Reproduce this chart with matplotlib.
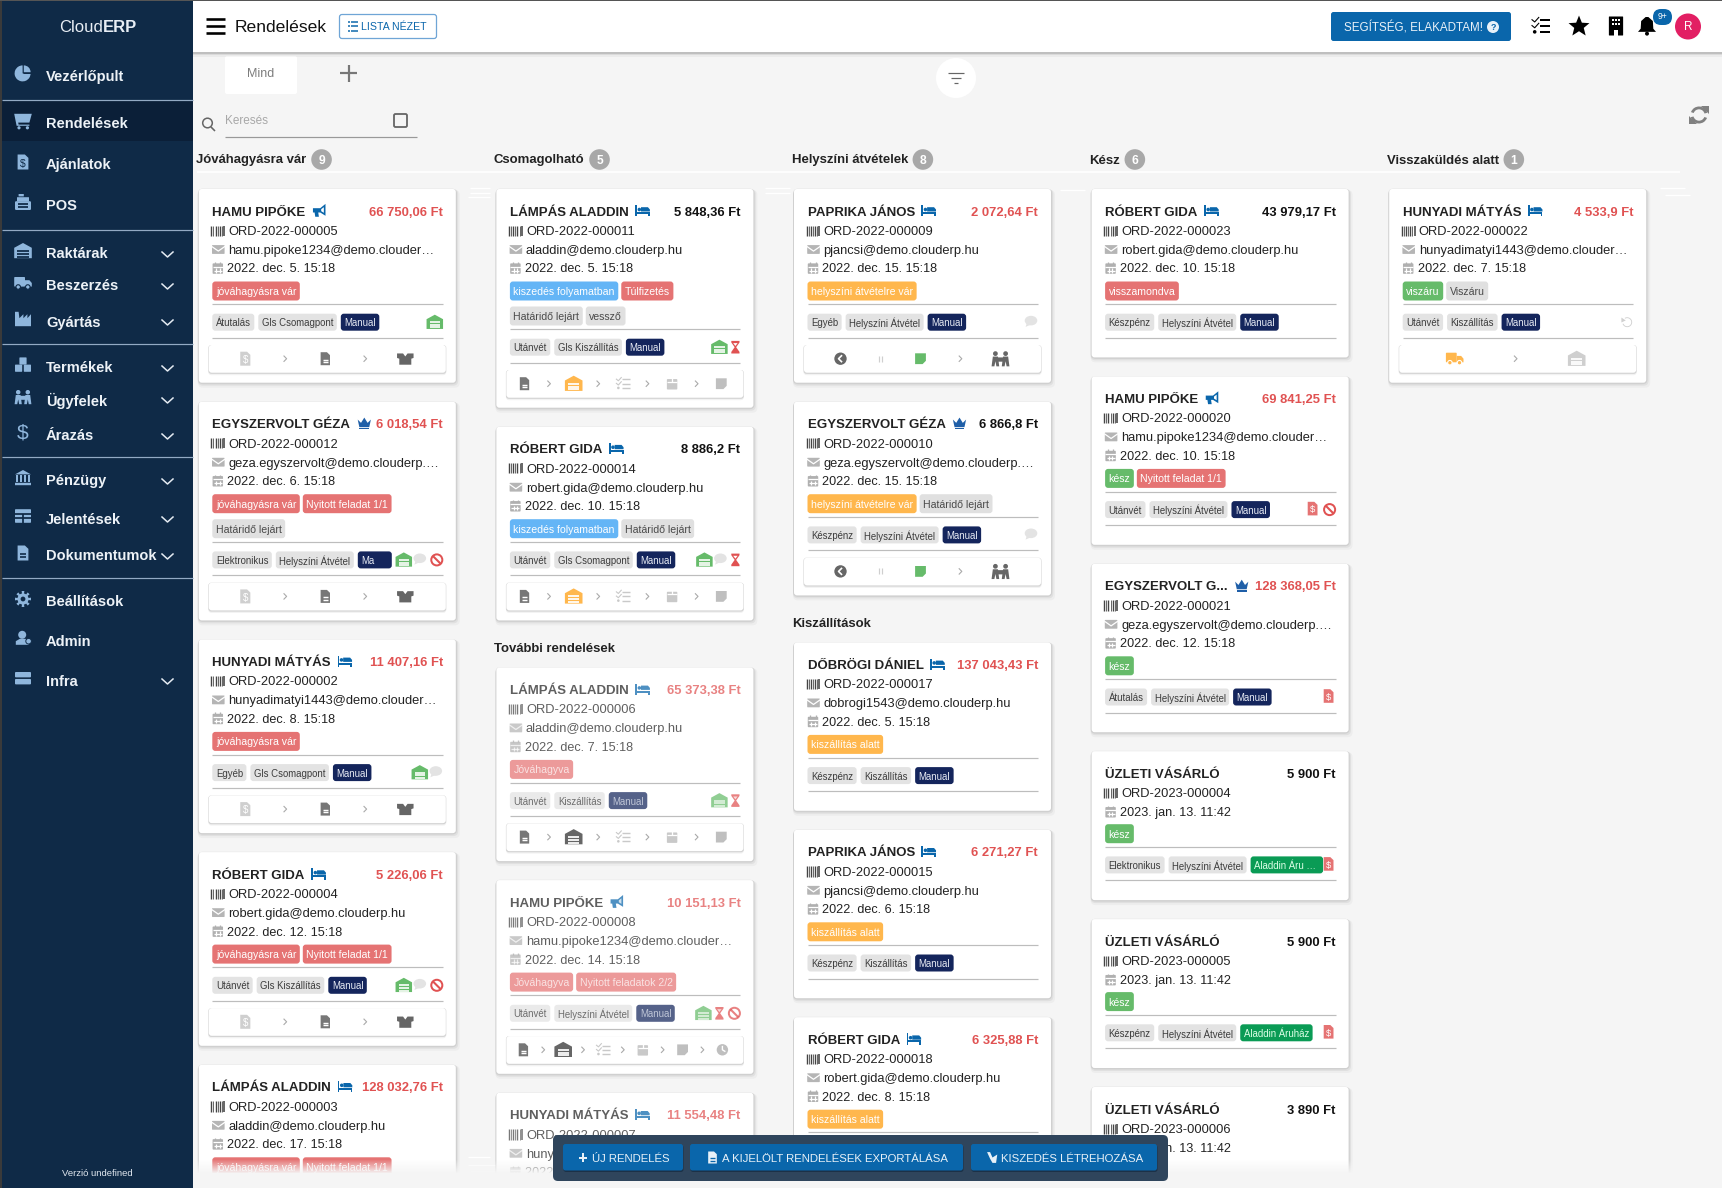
#!/usr/bin/env python3
# -*- coding: utf-8 -*-
import matplotlib
matplotlib.use('Agg')
import matplotlib.pyplot as plt
from matplotlib.patches import FancyBboxPatch, Polygon, Circle, Rectangle, Ellipse, Wedge

plt.rcParams['font.family'] = ['Liberation Sans', 'DejaVu Sans']

# Sidebar content
menu_labels = ['Vezérlőpult', 'Rendelések', 'Ajánlatok', 'POS', 'Raktárak', 'Beszerzés', 'Gyártás',
               'Termékek', 'Ügyfelek', 'Árazás', 'Pénzügy', 'Jelentések', 'Dokumentumok',
               'Beállítások', 'Admin', 'Infra']
menu_icons = ['pie', 'cart', 'file_dollar', 'pos', 'warehouse', 'truck', 'factory', 'boxes', 'people',
              'dollar', 'bank', 'table', 'file', 'gear', 'user', 'server']
menu_arrows = [0, 0, 0, 0, 1, 1, 1, 1, 1, 1, 1, 1, 1, 0, 0, 1]

# Kanban columns
column_titles = ['Jóváhagyásra vár', 'Csomagolható', 'Helyszíni átvételek', 'Kész', 'Visszaküldés alatt']
column_counts = ['9', '5', '8', '6', '1']

# Orders, one entry per card
card_column = [0, 0, 0, 0, 0, 1, 1, 1, 1, 1, 2, 2, 2, 2, 2, 3, 3, 3, 3, 3, 3, 4]
card_faded = [0, 0, 0, 0, 0, 0, 0, 1, 1, 1, 0, 0, 0, 0, 0, 0, 0, 0, 0, 0, 0, 0]
card_names = ['HAMU PIPŐKE', 'EGYSZERVOLT GÉZA', 'HUNYADI MÁTYÁS', 'RÓBERT GIDA', 'LÁMPÁS ALADDIN',
              'LÁMPÁS ALADDIN', 'RÓBERT GIDA', 'LÁMPÁS ALADDIN', 'HAMU PIPŐKE', 'HUNYADI MÁTYÁS',
              'PAPRIKA JÁNOS', 'EGYSZERVOLT GÉZA', 'DŐBRÖGI DÁNIEL', 'PAPRIKA JÁNOS', 'RÓBERT GIDA',
              'RÓBERT GIDA', 'HAMU PIPŐKE', 'EGYSZERVOLT G...', 'ÜZLETI VÁSÁRLÓ', 'ÜZLETI VÁSÁRLÓ',
              'ÜZLETI VÁSÁRLÓ', 'HUNYADI MÁTYÁS']
card_kinds = ['mega', 'crown', 'bed', 'bed', 'bed', 'bed', 'bed', 'bed', 'mega', 'bed', 'bed', 'crown',
              'bed', 'bed', 'bed', 'bed', 'mega', 'crown', None, None, None, 'bed']
card_amounts = ['66 750,06 Ft', '6 018,54 Ft', '11 407,16 Ft', '5 226,06 Ft', '128 032,76 Ft',
                '5 848,36 Ft', '8 886,2 Ft', '65 373,38 Ft', '10 151,13 Ft', '11 554,48 Ft',
                '2 072,64 Ft', '6 866,8 Ft', '137 043,43 Ft', '6 271,27 Ft', '6 325,88 Ft',
                '43 979,17 Ft', '69 841,25 Ft', '128 368,05 Ft', '5 900 Ft', '5 900 Ft', '3 890 Ft',
                '4 533,9 Ft']
card_unpaid = [1, 1, 1, 1, 1, 0, 0, 1, 1, 1, 1, 0, 1, 1, 1, 0, 1, 1, 0, 0, 0, 1]
card_ids = ['ORD-2022-000005', 'ORD-2022-000012', 'ORD-2022-000002', 'ORD-2022-000004', 'ORD-2022-000003',
            'ORD-2022-000011', 'ORD-2022-000014', 'ORD-2022-000006', 'ORD-2022-000008', 'ORD-2022-000007',
            'ORD-2022-000009', 'ORD-2022-000010', 'ORD-2022-000017', 'ORD-2022-000015', 'ORD-2022-000018',
            'ORD-2022-000023', 'ORD-2022-000020', 'ORD-2022-000021', 'ORD-2023-000004', 'ORD-2023-000005',
            'ORD-2023-000006', 'ORD-2022-000022']
card_emails = ['hamu.pipoke1234@demo.clouder…', 'geza.egyszervolt@demo.clouderp.…',
               'hunyadimatyi1443@demo.clouder…', 'robert.gida@demo.clouderp.hu', 'aladdin@demo.clouderp.hu',
               'aladdin@demo.clouderp.hu', 'robert.gida@demo.clouderp.hu', 'aladdin@demo.clouderp.hu',
               'hamu.pipoke1234@demo.clouder…', 'hunyadimatyi1443@demo.clouder…',
               'pjancsi@demo.clouderp.hu', 'geza.egyszervolt@demo.clouderp.…', 'dobrogi1543@demo.clouderp.hu',
               'pjancsi@demo.clouderp.hu', 'robert.gida@demo.clouderp.hu', 'robert.gida@demo.clouderp.hu',
               'hamu.pipoke1234@demo.clouder…', 'geza.egyszervolt@demo.clouderp.…', None, None, None,
               'hunyadimatyi1443@demo.clouder…']
card_dates = ['2022. dec. 5. 15:18', '2022. dec. 6. 15:18', '2022. dec. 8. 15:18', '2022. dec. 12. 15:18',
              '2022. dec. 17. 15:18', '2022. dec. 5. 15:18', '2022. dec. 10. 15:18', '2022. dec. 7. 15:18',
              '2022. dec. 14. 15:18', '2022. dec. 9. 15:18', '2022. dec. 15. 15:18', '2022. dec. 15. 15:18',
              '2022. dec. 5. 15:18', '2022. dec. 6. 15:18', '2022. dec. 8. 15:18', '2022. dec. 10. 15:18',
              '2022. dec. 10. 15:18', '2022. dec. 12. 15:18', '2023. jan. 13. 11:42', '2023. jan. 13. 11:42',
              '2023. jan. 13. 11:42', '2022. dec. 7. 15:18']
JOV = 'jóváhagyásra vár'
OPEN = 'Nyitott feladat 1/1'
LATE = 'Határidő lejárt'
PICK = 'kiszedés folyamatban'
SITE = 'helyszíni átvételre vár'
SHIP = 'kiszállítás alatt'
card_tags = [[[JOV]], [[JOV, OPEN], [LATE]], [[JOV]], [[JOV, OPEN]], [[JOV, OPEN]],
             [[PICK, 'Túlfizetés'], [LATE, 'vessző']], [[PICK, LATE]], [['Jóváhagyva']],
             [['Jóváhagyva', 'Nyitott feladatok 2/2']], [['Jóváhagyva']],
             [[SITE]], [[SITE, LATE]], [[SHIP]], [[SHIP]], [[SHIP]],
             [['visszamondva']], [['kész', OPEN]], [['kész']], [['kész']], [['kész']], [['kész']],
             [['viszáru', 'Viszáru']]]
card_chips = [['Átutalás', 'Gls Csomagpont', 'Manual'], ['Elektronikus', 'Helyszíni Átvétel', 'Ma'],
              ['Egyéb', 'Gls Csomagpont', 'Manual'], ['Utánvét', 'Gls Kiszállítás', 'Manual'],
              ['Utánvét', 'Gls Kiszállítás', 'Manual'], ['Utánvét', 'Gls Kiszállítás', 'Manual'],
              ['Utánvét', 'Gls Csomagpont', 'Manual'], ['Utánvét', 'Kiszállítás', 'Manual'],
              ['Utánvét', 'Helyszíni Átvétel', 'Manual'], ['Utánvét', 'Kiszállítás', 'Manual'],
              ['Egyéb', 'Helyszíni Átvétel', 'Manual'], ['Készpénz', 'Helyszíni Átvétel', 'Manual'],
              ['Készpénz', 'Kiszállítás', 'Manual'], ['Készpénz', 'Kiszállítás', 'Manual'],
              ['Készpénz', 'Kiszállítás', 'Manual'], ['Készpénz', 'Helyszíni Átvétel', 'Manual'],
              ['Utánvét', 'Helyszíni Átvétel', 'Manual'], ['Átutalás', 'Helyszíni Átvétel', 'Manual'],
              ['Elektronikus', 'Helyszíni Átvétel', 'Aladdin Áru …'],
              ['Készpénz', 'Helyszíni Átvétel', 'Aladdin Áruház'],
              ['Készpénz', 'Helyszíni Átvétel', 'Aladdin Áruház'], ['Utánvét', 'Kiszállítás', 'Manual']]
card_status = [['wh'], ['wh', 'comment', 'ban'], ['wh', 'comment'], ['wh', 'comment', 'ban'], ['wh', 'comment'],
               ['wh', 'glass'], ['wh', 'comment', 'glass'], ['wh', 'glass'], ['wh', 'glass', 'ban'], ['wh', 'glass'],
               ['comment'], ['comment'], [], [], [], [], ['invoice', 'ban'], ['invoice'], ['invoice'], ['invoice'],
               ['invoice'], ['undo']]
APPROVE = ['file_dollar', '>', 'file', '>', 'box']
PACK = ['file', '>', 'wh_orange', '>', 'list', '>', 'cal', '>', 'note']
PACK_GREY = ['file', '>', 'wh_dark', '>', 'list', '>', 'cal', '>', 'note']
PACK_LONG = PACK_GREY + ['>', 'clock']
PICKUP = ['back', 'pause', 'note_green', '>', 'people']
RETURN = ['truck_orange', '>', 'wh_light']
card_steps = [APPROVE, APPROVE, APPROVE, APPROVE, APPROVE, PACK, PACK, PACK_GREY, PACK_LONG, PACK_GREY,
              PICKUP, PICKUP, None, None, None, None, None, None, None, None, None, RETURN]
# a second heading opens before these cards
section_before = {7: 'További rendelések', 12: 'Kiszállítások'}

toolbar_labels = ['ÚJ RENDELÉS', 'A KIJELÖLT RENDELÉSEK EXPORTÁLÁSA', 'KISZEDÉS LÉTREHOZÁSA']
toolbar_icons = ['plus', 'file', 'picker']

tag_colors = {JOV: '#e57373', OPEN: '#e57373', LATE: '#e0e0e0', PICK: '#64b5f6', 'Túlfizetés': '#e57373',
              'vessző': '#e0e0e0', 'Jóváhagyva': '#e57373', 'Nyitott feladatok 2/2': '#e57373', SITE: '#ffb74d',
              SHIP: '#ffb74d', 'visszamondva': '#e57373', 'kész': '#66bb6a', 'viszáru': '#66bb6a',
              'Viszáru': '#e0e0e0'}

SIDEBAR = '#0f2a47'
SIDE_ICON = '#8fb6dc'
BLUE = '#0a66ab'
PAGE = '#f5f5f5'

fig = plt.figure(figsize=(17.22, 11.88), dpi=100, facecolor=PAGE)
ax = fig.add_axes([0, 0, 1, 1])
ax.set_xlim(0, 1722)
ax.set_ylim(1188, 0)
ax.axis('off')


def rr(x0, y0, x1, y1, r, fc, ec='none', lw=0, z=2, alpha=None):
    p = FancyBboxPatch((x0, y0), x1 - x0, y1 - y0, boxstyle='round,pad=0,rounding_size={}'.format(r),
                       fc=fc, ec=ec, lw=lw, zorder=z, alpha=alpha)
    ax.add_patch(p)


def txt(x, y, s, px, color='#222222', bold=False, ha='left', z=4, alpha=None):
    return ax.text(x, y, s, fontsize=px * 0.72, color=color, fontweight='bold' if bold else 'normal',
                   ha=ha, va='center_baseline', zorder=z, alpha=alpha)


def text_w(t):
    return t.get_window_extent(fig.canvas.get_renderer()).width


def line(x0, y0, x1, y1, c, lw=1.0, z=3, alpha=None):
    ax.plot([x0, x1], [y0, y1], color=c, lw=lw * 0.72, zorder=z, alpha=alpha, solid_capstyle='butt')


def poly(x, y, s, pts, c, z=5, a=None):
    ax.add_patch(Polygon([(x + px * s, y + py * s) for px, py in pts], closed=True, fc=c, ec='none', zorder=z, alpha=a))


def bars(x, y, s, rows, bg, z=6, a=None):
    # little strokes in background colour, to cut detail into a solid icon
    for x0, y0, x1, y1 in rows:
        line(x + x0 * s, y + y0 * s, x + x1 * s, y + y1 * s, bg, lw=max(1.0, s * 0.22), z=z, alpha=a)


def icon(kind, x, y, s, c, bg='white', a=None):
    if kind == 'file' or kind == 'file_dollar':
        poly(x, y, s, [(-.72, -1), (.25, -1), (.72, -.55), (.72, 1), (-.72, 1)], c, a=a)
        if kind == 'file':
            bars(x, y, s, [(-.35, .15, .35, .15), (-.35, .5, .35, .5)], bg, a=a)
        else:
            ax.text(x, y + s * .2, '$', fontsize=s * 1.0, color=bg, ha='center', va='center', zorder=6, alpha=a)
    elif kind == 'box':
        poly(x, y, s, [(-1.1, -.7), (-.3, -.7), (0, -.3), (.3, -.7), (1.1, -.7), (1.1, -.1), (.8, 0), (.8, .8), (-.8, .8), (-.8, 0), (-1.1, -.1)], c, a=a)
    elif kind == 'warehouse':
        poly(x, y, s, [(-1.1, -.4), (0, -1), (1.1, -.4), (1.1, .9), (-1.1, .9)], c, a=a)
        bars(x, y, s, [(-.7, 0, .7, 0), (-.7, .35, .7, .35), (-.7, .7, .7, .7)], bg, a=a)
    elif kind == 'comment':
        ax.add_patch(Ellipse((x, y - s * .1), 2.1 * s, 1.6 * s, fc=c, ec='none', zorder=5, alpha=a))
        poly(x, y, s, [(-.7, .3), (-.9, .95), (-.1, .6)], c, a=a)
    elif kind == 'ban':
        ax.add_patch(Circle((x, y), .85 * s, fc='none', ec=c, lw=s * .22, zorder=5, alpha=a))
        line(x - .6 * s, y - .6 * s, x + .6 * s, y + .6 * s, c, lw=s * .32, z=5, alpha=a)
    elif kind == 'glass':
        poly(x, y, s, [(-.65, -1), (.65, -1), (.65, -.75), (.12, 0), (.65, .75), (.65, 1), (-.65, 1), (-.65, .75), (-.12, 0), (-.65, -.75)], c, a=a)
        poly(x, y, s, [(-.35, -.65), (.35, -.65), (0, -.2)], bg, z=6, a=a)
    elif kind == 'bed':
        poly(x, y, s, [(-1.1, -.8), (-.85, -.8), (-.85, .25), (1.1, .25), (1.1, .9), (.85, .9), (.85, .55), (-.85, .55), (-.85, .9), (-1.1, .9)], c, a=a)
        poly(x, y, s, [(-.25, -.5), (.8, -.5), (1.1, -.15), (1.1, .15), (-.25, .15)], c, a=a)
        ax.add_patch(Circle((x - .5 * s, y - .15 * s), .27 * s, fc=c, ec='none', zorder=5, alpha=a))
    elif kind == 'mega':
        poly(x, y, s, [(-1, -.35), (.1, -.35), (.9, -1), (.9, .8), (.1, .3), (-.2, .3), (-.1, .95), (-.65, .95), (-.75, .3), (-1, .3)], c, a=a)
        poly(x, y, s, [(.25, -.2), (.65, -.5), (.65, .35), (.25, .1)], bg, z=6, a=a)
    elif kind == 'crown':
        poly(x, y, s, [(-1, -.55), (-.5, -.05), (0, -.85), (.5, -.05), (1, -.55), (.75, .6), (-.75, .6)], c, a=a)
        poly(x, y, s, [(-.75, .72), (.75, .72), (.75, .95), (-.75, .95)], c, a=a)
    elif kind == '>':
        ax.plot([x - .22 * s, x + .22 * s, x - .22 * s], [y - .45 * s, y, y + .45 * s], color=c, lw=.8, zorder=5, alpha=a)
    elif kind == 'list':
        for dy in [-.65, 0, .65]:
            line(x - .1 * s, y + dy * s, x + 1.05 * s, y + dy * s, c, lw=max(1.1, s * .22), z=5, alpha=a)
            if dy < .5:
                ax.plot([x - s, x - .7 * s, x - .25 * s], [y + (dy - .05) * s, y + (dy + .2) * s, y + (dy - .3) * s],
                        color=c, lw=.8, zorder=5, alpha=a)
            else:
                ax.add_patch(Circle((x - .7 * s, y + dy * s), .2 * s, fc=c, ec='none', zorder=5, alpha=a))
    elif kind == 'cal':
        rr(x - .9 * s, y - .8 * s, x + .9 * s, y + s, .15 * s, c, z=5, alpha=a)
        bars(x, y, s, [(-.9, -.25, .9, -.25), (-.3, .05, -.3, .8), (.3, .05, .3, .8), (-.7, .45, .7, .45)], bg, a=a)
        bars(x, y, s, [(-.45, -1.05, -.45, -.7), (.45, -1.05, .45, -.7)], c, a=a)
    elif kind == 'cal_plain':
        rr(x - .9 * s, y - .8 * s, x + .9 * s, y + s, .15 * s, c, z=5, alpha=a)
        bars(x, y, s, [(-.9, -.35, .9, -.35), (0, -1.05, 0, -.35)], bg, a=a)
    elif kind == 'note':
        poly(x, y, s, [(-.9, -.9), (.9, -.9), (.9, .35), (.35, .9), (-.9, .9)], c, a=a)
    elif kind == 'back':
        ax.add_patch(Circle((x, y), .95 * s, fc=c, ec='none', zorder=5, alpha=a))
        ax.plot([x + .15 * s, x - .3 * s, x + .15 * s], [y - .45 * s, y, y + .45 * s], color=bg, lw=1.2, zorder=6)
    elif kind == 'pause':
        line(x - .2 * s, y - .5 * s, x - .2 * s, y + .5 * s, c, lw=1.2, z=5, alpha=a)
        line(x + .2 * s, y - .5 * s, x + .2 * s, y + .5 * s, c, lw=1.2, z=5, alpha=a)
    elif kind == 'people':
        for dx in [-.6, .6]:
            ax.add_patch(Circle((x + dx * s, y - .6 * s), .28 * s, fc=c, ec='none', zorder=5, alpha=a))
            poly(x + dx * s, y, s, [(-.3, -.25), (.3, -.25), (.45, .9), (.12, .9), (0, .3), (-.12, .9), (-.45, .9)], c, a=a)
        rr(x - .45 * s, y - .15 * s, x + .45 * s, y + .35 * s, .05 * s, c, z=5, alpha=a)
    elif kind == 'truck':
        rr(x - 1.1 * s, y - .75 * s, x + .25 * s, y + .45 * s, .1 * s, c, z=5, alpha=a)
        poly(x, y, s, [(.25, -.35), (.8, -.35), (1.1, 0), (1.1, .45), (.25, .45)], c, a=a)
        for dx in [-.6, .6]:
            ax.add_patch(Circle((x + dx * s, y + .5 * s), .28 * s, fc=c, ec=bg, lw=.8, zorder=6, alpha=a))
    elif kind == 'clock':
        ax.add_patch(Circle((x, y), .95 * s, fc=c, ec='none', zorder=5, alpha=a))
        ax.plot([x, x, x + .4 * s], [y - .55 * s, y, y + .25 * s], color=bg, lw=1, zorder=6)
    elif kind == 'undo':
        ax.add_patch(Wedge((x, y), .85 * s, -120, 160, width=.15 * s, fc=c, ec='none', zorder=5, alpha=a))
        poly(x, y, s, [(-1, -.8), (-.25, -.3), (-1, .05)], c, a=a)
    elif kind == 'pie':
        ax.add_patch(Wedge((x - .05 * s, y + .05 * s), s, 0, 270, fc=c, ec='none', zorder=5))
        ax.add_patch(Wedge((x + .1 * s, y - .1 * s), .85 * s, 270, 360, fc=c, ec='none', zorder=5))
        line(x - .05 * s, y, x + s, y, bg, lw=1, z=6)
    elif kind == 'cart':
        poly(x, y, s, [(-1.1, -.9), (1.1, -.9), (.8, .2), (-.6, .2), (-.55, .45), (.8, .45), (.8, .6), (-.8, .6)], c)
        for dx in [-.5, .55]:
            ax.add_patch(Circle((x + dx * s, y + .85 * s), .2 * s, fc=c, ec='none', zorder=5))
    elif kind == 'pos':
        rr(x - s, y - .1 * s, x + s, y + s, .15 * s, c, z=5)
        rr(x - .75 * s, y - .6 * s, x + .75 * s, y - .05 * s, .05 * s, c, z=5)
        rr(x - .55 * s, y - s, x + .1 * s, y - .7 * s, .02 * s, c, z=5)
        bars(x, y, s, [(-.6, .3, .6, .3), (-.6, .6, .6, .6)], bg)
    elif kind == 'factory':
        poly(x, y, s, [(-1, -.9), (-.55, -.9), (-.45, -.1), (.05, -.6), (.05, -.1), (.55, -.6), (.55, -.1), (1, -.6), (1, .9), (-1, .9)], c)
    elif kind == 'boxes':
        for dx, dy in [(-.55, .4), (.55, .4), (0, -.5)]:
            rr(x + (dx - .45) * s, y + (dy - .45) * s, x + (dx + .45) * s, y + (dy + .45) * s, .08 * s, c, z=5)
    elif kind == 'dollar':
        ax.text(x, y, '$', fontsize=s * 1.9, color=c, ha='center', va='center', zorder=5)
    elif kind == 'bank':
        poly(x, y, s, [(-1, -.45), (0, -1), (1, -.45)], c)
        for dx in [-.7, -.25, .25, .7]:
            line(x + dx * s, y - .35 * s, x + dx * s, y + .55 * s, c, lw=s * .25, z=5)
        line(x - s, y + .75 * s, x + s, y + .75 * s, c, lw=s * .3, z=5)
    elif kind == 'table':
        rr(x - s, y - .85 * s, x + s, y + .85 * s, .1 * s, c, z=5)
        bars(x, y, s, [(-1, -.3, 1, -.3), (-1, .28, 1, .28), (0, -.3, 0, .85)], bg)
    elif kind == 'gear':
        for ang in range(0, 360, 45):
            ax.add_patch(Wedge((x, y), s, ang - 10, ang + 10, fc=c, ec='none', zorder=5))
        ax.add_patch(Circle((x, y), .7 * s, fc=c, ec='none', zorder=5))
        ax.add_patch(Circle((x, y), .3 * s, fc=bg, ec='none', zorder=6))
    elif kind == 'user':
        ax.add_patch(Circle((x - .1 * s, y - .4 * s), .5 * s, fc=c, ec='none', zorder=5))
        poly(x, y, s, [(-.9, .85), (-.9, .4), (-.4, .1), (.3, .1), (.7, .4), (.7, .85)], c)
        ax.add_patch(Circle((x + .7 * s, y + .4 * s), .35 * s, fc=c, ec=bg, lw=.7, zorder=6))
    elif kind == 'server':
        rr(x - s, y - .75 * s, x + s, y - .08 * s, .12 * s, c, z=5)
        rr(x - s, y + .12 * s, x + s, y + .8 * s, .12 * s, c, z=5)
    elif kind == 'barcode':
        for i, w in enumerate([1.4, .8, 1.4, .8, 1.4, .8, 1.6]):
            line(x - s + i * s * .33, y - .75 * s, x - s + i * s * .33, y + .8 * s, c, lw=w, z=5, alpha=a)
    elif kind == 'mail':
        rr(x - s, y - .7 * s, x + s, y + .7 * s, .1 * s, c, z=5, alpha=a)
        ax.plot([x - s, x, x + s], [y - .45 * s, y + .25 * s, y - .45 * s], color=bg, lw=.9, zorder=6, alpha=a)
    elif kind == 'star':
        pts = [(0, -1.1), (.3, -.35), (1.1, -.3), (.5, .2), (.7, 1), (0, .55), (-.7, 1), (-.5, .2), (-1.1, -.3), (-.3, -.35)]
        poly(x, y, s, pts, c)
    elif kind == 'building':
        rr(x - .75 * s, y - s, x + .75 * s, y + s, .05 * s, c, z=5)
        for dx in [-.35, 0, .35]:
            for dy in [-.6, -.2]:
                ax.add_patch(Rectangle((x + (dx - .1) * s, y + (dy - .1) * s), .2 * s, .2 * s, fc=bg, zorder=6))
        ax.add_patch(Rectangle((x - .2 * s, y + .45 * s), .4 * s, .55 * s, fc=bg, zorder=6))
    elif kind == 'bell':
        poly(x, y, s, [(-.15, -1), (.15, -1), (.65, -.55), (.7, .3), (1, .65), (-1, .65), (-.7, .3), (-.65, -.55)], c)
        ax.add_patch(Circle((x, y + .85 * s), .22 * s, fc=c, ec='none', zorder=5))
    elif kind == 'picker':
        poly(x, y, s, [(-.8, -.9), (-.3, -.9), (.1, 0), (.9, -.5), (.7, .9), (.1, .9), (-.3, .2)], c)
    elif kind == 'plus':
        line(x - .7 * s, y, x + .7 * s, y, c, lw=2)
        line(x, y - .7 * s, x, y + .7 * s, c, lw=2)


def lift(z_new):
    # icons are drawn at z 5/6; raise the ones of a chrome layer above what it covers
    for art in ax.patches + ax.lines + ax.texts:
        if art.get_zorder() in (5, 6):
            art.set_zorder(z_new + art.get_zorder() - 5)


###########
# SIDEBAR #
###########
ax.add_patch(Rectangle((0, 0), 193, 1188, fc=SIDEBAR, ec='none', zorder=10))
ax.add_patch(Rectangle((0, 100), 193, 41, fc='#0b1f38', ec='none', zorder=10))
ax.add_patch(Rectangle((0, 0), 1.5, 1188, fc='#3a3a3a', ec='none', zorder=12))
ax.add_patch(Rectangle((0, 0), 1722, 1, fc='#555555', ec='none', zorder=30))
for y in [99.5, 229.5, 343.5, 457, 578]:
    line(1.5, y, 193, y, '#93aac4', lw=1.2, z=11)
t1 = ax.text(59, 26, 'Cloud', fontsize=12, color='#e8eef5', va='center_baseline', zorder=11)
ax.text(59 + text_w(t1), 26, 'ERP', fontsize=12, color='#e8eef5', fontweight='bold', va='center_baseline', zorder=11)
menu_y = [75, 123, 164, 204, 253, 285, 321, 367, 399, 435, 480, 518, 555, 601, 640, 680]
for label, kind, arrow, y in zip(menu_labels, menu_icons, menu_arrows, menu_y):
    ax.text(46, y, label, fontsize=10.5, color='#edf2f7', fontweight='bold', va='center_baseline', zorder=11)
    bg = '#0b1f38' if label == 'Rendelések' else SIDEBAR
    # icons sit a little above the label
    icon(kind, 23, y - 2, 7.5 if kind in ('file_dollar', 'file') else 8, SIDE_ICON, bg=bg)
    if arrow:
        ax.plot([162, 167.5, 173], [y - 1, y + 4, y - 1], color='#e4ebf2', lw=1.1, zorder=11)
lift(13)
ax.text(97, 1173, 'Verzió undefined', fontsize=6.8, color='#dfe6ee', ha='center', va='center_baseline', zorder=11)

###########
# TOP BAR #
###########
for off, al in [(5, .04), (3, .07), (1.5, .12)]:
    ax.add_patch(Rectangle((193, 0), 1529, 52 + off, fc='black', alpha=al, ec='none', zorder=7))
ax.add_patch(Rectangle((193, 0), 1529, 52, fc='white', ec='none', zorder=8))
for y in [19, 26, 33]:
    line(206, y, 225, y, 'black', lw=2.6, z=9)
ax.text(235, 26, 'Rendelések', fontsize=12.6, color='#111111', va='center_baseline', zorder=9)
rr(339.5, 14.5, 436.5, 38.5, 2.5, 'white', ec='#6fa5d6', lw=.9, z=9)
for y in [21.5, 26, 30.5]:
    line(347.5, y, 349.5, y, BLUE, lw=1.5, z=10)
    line(351, y, 357.5, y, BLUE, lw=1.5, z=10)
ax.text(361, 26.5, 'LISTA NÉZET', fontsize=7.6, color=BLUE, va='center_baseline', zorder=10)
rr(1331, 12, 1511, 41, 2.5, BLUE, z=9)
ax.text(1344, 26.5, 'SEGÍTSÉG, ELAKADTAM!', fontsize=8.4, color='#e8f1f8', va='center_baseline', zorder=10)
ax.add_patch(Circle((1493, 27), 6, fc='#e8f1f8', ec='none', zorder=10))
ax.text(1493, 27, '?', fontsize=6.5, color=BLUE, fontweight='bold', ha='center', va='center', zorder=11)
for kind, x, s in [('list', 1541, 9), ('star', 1579, 9.5), ('building', 1616, 9.5), ('bell', 1647, 9)]:
    icon(kind, x, 26, s, 'black')
lift(10)
rr(1653, 9, 1672, 25, 8, BLUE, z=11)
ax.text(1662.5, 16.5, '9+', fontsize=6.2, color='white', ha='center', va='center', zorder=12)
ax.add_patch(Circle((1688, 26.5), 13, fc='#e21f63', ec='none', zorder=9))
ax.text(1688, 26.5, 'R', fontsize=8.5, color='white', ha='center', va='center', zorder=10)

###############
# TABS/SEARCH #
###############
rr(225, 56, 297, 94, 2, 'white', z=1)
ax.text(261, 72.5, 'Mind', fontsize=9, color='#7d7d7d', ha='center', va='center_baseline', zorder=2)
line(340, 73, 357, 73, '#777777', lw=2.2)
line(348.5, 64.5, 348.5, 81.5, '#777777', lw=2.2)
ax.add_patch(Circle((956, 78), 20, fc='white', ec='none', zorder=1))
line(948, 73, 964, 73, '#666666', lw=1.2)
line(951, 78, 961, 78, '#666666', lw=1.2)
line(954, 83, 958, 83, '#666666', lw=1.2)
ax.add_patch(Circle((207.5, 123), 4.8, fc='none', ec='#666666', lw=1.1, zorder=2))
line(211, 127, 215, 131, '#666666', lw=1.6)
ax.text(225, 120, 'Keresés', fontsize=8.5, color='#a8a8a8', va='center_baseline', zorder=2)
rr(394, 114, 407, 127, 1.5, 'none', ec='#666666', lw=1.3)
line(225, 136.5, 417, 136.5, '#999999', lw=1.2)
ax.add_patch(Wedge((1699, 115), 8.5, 20, 165, width=2.8, fc='#808080', ec='none', zorder=2))
ax.add_patch(Wedge((1699, 115), 8.5, 200, 345, width=2.8, fc='#808080', ec='none', zorder=2))
poly(1699, 115, 1, [(2, -9), (10, -9), (10, -1)], '#808080', z=2)
poly(1699, 115, 1, [(-2, 9), (-10, 9), (-10, 1)], '#808080', z=2)
# white streak under the headings and the specks in the column gaps
line(197, 172, 1680, 172, 'white', lw=1.6, z=1)
for x0, x1, y in [(470, 490, 188), (470, 490, 193), (468, 490, 197), (765, 790, 188), (765, 790, 193),
                  (1060, 1085, 190), (1660, 1685, 188), (1665, 1690, 195), (468, 490, 1157), (468, 495, 1165),
                  (470, 505, 1171)]:
    line(x0, y, x1, y, 'white', lw=1.2, z=1)

###########
# COLUMNS #
###########
col_x = [198.8, 496.4, 794, 1091.6, 1389.2]
CARD_W = 257
for x, title, count in zip(col_x, column_titles, column_counts):
    t = txt(x - 2.5, 159, title, 13.1, '#222222', bold=True)
    cx = x - 2.5 + text_w(t) + 15
    ax.add_patch(Circle((cx, 159.5), 10.3, fc='#a8a8a8', ec='none', zorder=2))
    txt(cx, 159.5, count, 12, 'white', bold=True, ha='center')

tops = {i: 189.0 for i in range(5)}
chip_widths = {'Ma': 34, 'Aladdin Áru …': 72.5}
step_gap = {3: 61, 5: 40, 9: 24.6, 11: 19.9}
step_styles = {'file_dollar': ('file_dollar', '#cfcfcf', 7), 'file': ('file', '#777777', 6.5),
               'box': ('box', '#666666', 7.5), '>': ('>', '#aaaaaa', 6),
               'wh_orange': ('warehouse', '#ffb74d', 8), 'wh_dark': ('warehouse', '#666666', 8),
               'wh_light': ('warehouse', '#cfcfcf', 8), 'list': ('list', '#c9c9c9', 6.5),
               'cal': ('cal_plain', '#c9c9c9', 5.8), 'note': ('note', '#bfbfbf', 6),
               'back': ('back', '#666666', 6.5), 'pause': ('pause', '#cfcfcf', 6),
               'note_green': ('note', '#66bb6a', 6), 'people': ('people', '#666666', 8.5),
               'truck_orange': ('truck', '#ffb74d', 8), 'clock': ('clock', '#bfbfbf', 6)}
for i, name in enumerate(card_names):
    col = card_column[i]
    x = col_x[col]
    if i in section_before:
        txt(x - 2, tops[col] + 8.5, section_before[i], 13.1, '#222222', bold=True)
        tops[col] += 28
    top = tops[col]
    fade = 0.72 if card_faded[i] else None
    ink = '#222222'

    # vertical flow of the card content
    name_y = top + 22
    id_y = top + 41.5
    mail_y = top + 60.5 if card_emails[i] else None
    date_y = top + 79 if card_emails[i] else top + 60.5
    tag_y = date_y + 23 if card_emails[i] else date_y + 22
    rows = card_tags[i]
    rule1 = tag_y + 13.2 + 25 * (len(rows) - 1)
    chip_y = rule1 + 18
    rule2 = chip_y + 15.5
    bar_y = rule2 + 21 if card_steps[i] else None
    bottom = bar_y + 24 if card_steps[i] else rule2 + 19.7
    tops[col] = bottom + 19

    for off, al in [(5, .03), (3, .05), (1.5, .07)]:
        rr(x - 1, top - 1 + off * .4, x + CARD_W + off * .8, bottom + off, 5, 'black', z=1, alpha=al)
    rr(x, top, x + CARD_W, bottom, 3, 'white', z=2)

    tx = x + 13.5
    right = x + 244
    t = txt(tx, name_y, name, 13.3, ink, bold=True, alpha=fade)
    if card_kinds[i]:
        icon(card_kinds[i], tx + text_w(t) + 14, name_y - .5, 6.6, BLUE if card_kinds[i] != 'crown' else '#1f5fa8', a=fade)
    amt_color = '#e05252' if card_unpaid[i] else '#111111'
    txt(right, name_y, card_amounts[i], 13, amt_color, bold=True, ha='right', alpha=fade)

    icon('barcode', tx + 5.5, id_y, 6.5, '#444444', a=fade)
    txt(tx + 16, id_y, card_ids[i], 12.9, ink, alpha=fade)
    if mail_y:
        icon('mail', tx + 6, mail_y, 6.3, '#b5b5b5', a=fade)
        txt(tx + 16, mail_y, card_emails[i], 12.9, ink, alpha=fade)
    icon('cal', tx + 5.5, date_y, 5.8, '#b0b0b0', a=fade)
    txt(tx + 15, date_y, card_dates[i], 12.6, ink, alpha=fade)

    # status tags
    for r, row in enumerate(rows):
        cx = tx
        cy = tag_y + 25 * r
        for label in row:
            bg = tag_colors[label]
            fg = '#4a4a4a' if bg == '#e0e0e0' else 'white'
            t = txt(cx + 3.5, cy, label, 10.5, fg, z=4, alpha=fade)
            w = text_w(t) + 7
            rr(cx, cy - 9.5, cx + w, cy + 9.5, 3, bg, z=3, alpha=fade)
            cx += w + 3
    line(tx, rule1, right, rule1, '#bdbdbd', lw=1.2)

    # payment / delivery chips
    cx = tx
    for label in card_chips[i]:
        bg, fg = '#e3e3e3', '#3c3c3c'
        if label == 'Manual' or label == 'Ma':
            bg, fg = '#14255c', '#e8ecf5'
        elif label.startswith('Aladdin'):
            bg, fg = '#0a9b55', '#dcffe6'
        t = txt(cx + 3.5, chip_y, label, 9.7, fg, z=4, alpha=fade)
        w = chip_widths.get(label, text_w(t) + 7)
        rr(cx, chip_y - 8.5, cx + w, chip_y + 8.5, 3, bg, z=3, alpha=fade)
        cx += w + 4
    line(tx, rule2, right, rule2, '#bdbdbd', lw=1.2)

    # status icons, packed to the right edge
    sx = right - 7
    for kind in reversed(card_status[i]):
        if kind == 'wh':
            icon('warehouse', sx - 1, chip_y, 7.5, '#66bb6a', a=fade)
            sx -= 17
        elif kind == 'comment':
            icon('comment', sx, chip_y - 1, 6, '#e3e3e3', a=fade)
            sx -= 15
        elif kind == 'ban':
            icon('ban', sx + 1, chip_y, 6.5, '#e05252', a=fade)
            sx -= 16
        elif kind == 'glass':
            icon('glass', sx + 2, chip_y, 6.3, '#e05252', a=fade)
            sx -= 13
        elif kind == 'invoice':
            icon('file_dollar', sx, chip_y - 1, 6.8, '#e57373', a=fade)
            sx -= 14
        elif kind == 'undo':
            icon('undo', sx + 1, chip_y, 5.8, '#d0d0d0', a=fade)

    # step bar at the bottom of the card
    steps = card_steps[i]
    if steps:
        bx0, bx1 = x + 10, x + CARD_W - 10
        for off, al in [(2.5, .05), (1.2, .12)]:
            rr(bx0 - .5, bar_y - 13.7, bx1 + .5, bar_y + 14 + off, 3, 'black', z=2, alpha=al)
        rr(bx0, bar_y - 13.7, bx1, bar_y + 14, 3, 'white', z=3)
        gap = step_gap[len(steps)]
        mid = (bx0 + bx1) / 2 - 2
        for k, step in enumerate(steps):
            kind, color, s = step_styles[step]
            icon(kind, mid + gap * (k - (len(steps) - 1) / 2), bar_y, s, color)

# the list scrolls away under a faded edge at the bottom of the page
for k in range(13):
    ax.add_patch(Rectangle((193, 1160 + k), 1529, 1, fc=PAGE, ec='none', alpha=(k + 1) / 14, zorder=7))
ax.add_patch(Rectangle((193, 1173), 1529, 15, fc=PAGE, ec='none', zorder=7))
line(193, 1173, 520, 1173, 'white', lw=.8, z=8, alpha=.0)

###########
# TOOLBAR #
###########
rr(553, 1135, 1168, 1181, 5, '#2f455c', z=20)
toolbar_spans = [(563, 683), (690, 963), (971, 1157)]
for label, kind, (x0, x1) in zip(toolbar_labels, toolbar_icons, toolbar_spans):
    rr(x0 + .5, 1145, x1 + .5, 1172, 2.5, '#0a1f33', z=21, alpha=.5)
    rr(x0, 1144, x1, 1170.5, 2.5, BLUE, z=22)
    t = ax.text((x0 + x1) / 2 + 8, 1158, label, fontsize=8.2, color='#e8f1f8', ha='center',
                va='center_baseline', zorder=24)
    ix = t.get_window_extent(fig.canvas.get_renderer()).x0 - 9
    before = len(ax.patches), len(ax.lines)
    icon(kind, ix, 1157.5, 6, '#e8f1f8', bg=BLUE)
    for art in list(ax.patches)[before[0]:] + list(ax.lines)[before[1]:]:
        art.set_zorder(art.get_zorder() + 19)

# text that the page covers completely is not part of what can be seen
renderer = fig.canvas.get_renderer()
for t in ax.texts:
    if t.get_zorder() > 6:
        continue
    box = t.get_window_extent(renderer)
    y_top, y_bot = 1188 - box.y1, 1188 - box.y0
    under_bar = box.x0 >= 553 and box.x1 <= 1168 and y_top >= 1133 and y_bot <= 1183
    if y_top >= 1172 or under_bar:
        t.set_visible(False)

fig.savefig('out.png', dpi=100, facecolor=fig.get_facecolor())
